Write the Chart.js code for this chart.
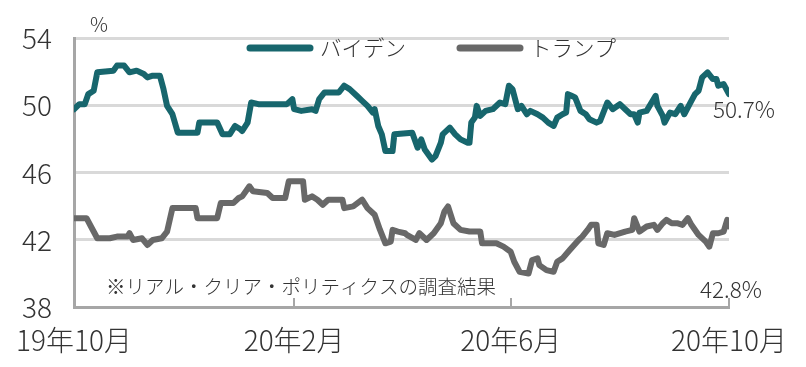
<!DOCTYPE html>
<html>
<head>
<meta charset="utf-8">
<script src="https://cdn.jsdelivr.net/npm/chart.js@4"></script>
<style>
  html, body { margin: 0; padding: 0; background: #fff; }
  #wrap { width: 806px; height: 367px; }
</style>
</head>
<body>
<div id="wrap"><canvas id="canvasSupport"></canvas></div>
<script>
// days counted from 2019-10-01
const tickDays = [0, 123, 244, 366]
const tickLabels = ['19年10月', '20年2月', '20年6月', '20年10月']
const yTicks = [38, 42, 46, 50, 54]

const bidenDays = [0, 3, 6, 8, 11, 13, 22, 24, 28, 31, 35, 39, 41, 44, 48, 50, 52, 55, 58, 69, 70, 80, 83, 87, 90, 93, 94, 97, 99, 103,
    119, 122, 123, 127, 133, 135, 137, 140, 148, 151, 154, 158, 161, 164, 167, 168, 170, 172, 174, 178, 179, 189, 192, 194, 196,
    200, 202, 205, 206, 210, 213, 216, 220, 221, 222, 224, 225, 227, 230, 234, 238, 241, 243, 245, 248, 250, 253, 255, 259, 262,
    265, 268, 270, 273, 275, 276, 278, 280, 283, 286, 288, 292, 294, 298, 301, 305, 308, 311, 313, 315, 316, 320, 325, 326, 329,
    330, 333, 336, 339, 341, 344, 347, 349, 351, 354, 357, 359, 360, 363, 366]
const bidenValues = [49.8, 50.1, 50.1, 50.7, 50.9, 52.0, 52.1, 52.4, 52.4, 52.0, 52.1, 51.9, 51.7, 51.8, 51.8, 51.0, 50.0, 49.5, 48.4, 48.4, 49.0, 49.0, 48.3, 48.3, 48.8, 48.6, 48.5, 49.0, 50.2, 50.1,
    50.1, 50.4, 49.8, 49.7, 49.8, 49.7, 50.4, 50.8, 50.8, 51.2, 51.0, 50.6, 50.3, 50.0, 49.6, 49.8, 48.8, 48.3, 47.3, 47.3, 48.3, 48.4, 47.5, 48.0, 47.4,
    46.8, 47.0, 47.8, 48.3, 48.7, 48.3, 48.0, 47.8, 47.8, 49.0, 49.3, 50.0, 49.4, 49.7, 49.8, 50.2, 50.1, 51.2, 51.0, 49.8, 50.0, 49.5, 49.7, 49.5, 49.3,
    49.0, 48.8, 49.3, 49.5, 49.6, 50.7, 50.6, 50.5, 49.7, 49.5, 49.2, 49.0, 49.1, 50.2, 49.8, 50.1, 49.8, 49.5, 49.5, 49.0, 49.6, 49.7, 50.6, 50.0, 49.4,
    49.0, 49.6, 49.5, 50.0, 49.5, 50.1, 50.7, 50.9, 51.7, 52.0, 51.6, 51.6, 51.2, 51.3, 50.7]

const trumpDays = [0, 7, 10, 13, 20, 24, 30, 31, 33, 38, 41, 44, 49, 52, 55, 68, 69, 80, 82, 89, 92, 94, 98, 100, 108, 111, 118, 120,
    128, 129, 133, 136, 139, 142, 150, 151, 156, 161, 164, 168, 171, 174, 177, 178, 181, 185, 186, 191, 193, 197, 201, 205, 207,
    209, 212, 216, 221, 227, 228, 236, 240, 244, 246, 249, 254, 256, 259, 260, 264, 268, 270, 273, 277, 282, 284, 287, 289, 292,
    293, 296, 298, 302, 308, 312, 313, 316, 320, 324, 326, 329, 331, 334, 337, 340, 343, 345, 349, 353, 355, 357, 360, 363, 365, 366]
const trumpValues = [43.3, 43.3, 42.7, 42.1, 42.1, 42.2, 42.2, 42.4, 42.0, 42.1, 41.7, 42.0, 42.1, 42.5, 43.9, 43.9, 43.3, 43.3, 44.2, 44.2, 44.5, 44.6, 45.2, 44.9, 44.8, 44.5, 44.5, 45.5,
    45.5, 44.4, 44.6, 44.4, 44.1, 44.4, 44.4, 43.9, 44.0, 44.4, 43.9, 43.5, 42.6, 41.8, 41.9, 42.6, 42.5, 42.4, 42.3, 42.0, 42.4, 42.0, 42.4, 43.0, 43.7,
    44.0, 43.0, 42.6, 42.5, 42.5, 41.8, 41.8, 41.6, 41.3, 40.7, 40.1, 40.0, 40.8, 40.9, 40.5, 40.2, 40.1, 40.7, 40.9, 41.4, 42.0, 42.2, 42.6, 42.9, 42.9,
    41.8, 41.7, 42.4, 42.3, 42.5, 42.6, 43.3, 42.5, 42.8, 42.9, 42.6, 43.0, 43.2, 43.0, 43.0, 42.9, 43.3, 42.9, 42.3, 41.9, 41.6, 42.4, 42.4, 42.5, 43.2, 42.8]

const BIDEN_COLOR = '#17666d'
const TRUMP_COLOR = '#686868'
const AXIS_COLOR = '#a6a6a6'
const TEXT_COLOR = '#333333'
const FONT = '"Noto Sans CJK JP", "Noto Sans", sans-serif'

function toPoints(days, values) {
    return days.map((d, i) => ({ x: d, y: values[i] }))
}

// legend, unit and notes drawn on top of the chart
const notesPlugin = {
    id: 'notes',
    afterDraw(chart) {
        const ctx = chart.ctx
        const area = chart.chartArea
        const xs = chart.scales.x
        const ys = chart.scales.y
        ctx.save()
        ctx.fillStyle = TEXT_COLOR
        ctx.textBaseline = 'middle'

        // legend
        ctx.font = '300 21.5px ' + FONT
        let lx = 250
        const ly = 48
        chart.data.datasets.forEach(ds => {
            ctx.strokeStyle = ds.borderColor
            ctx.lineWidth = 7
            ctx.lineCap = 'round'
            ctx.beginPath()
            ctx.moveTo(lx, ly)
            ctx.lineTo(lx + 60, ly)
            ctx.stroke()
            ctx.fillText(ds.label, lx + 70, ly)
            lx += 70 + ctx.measureText(ds.label).width + 54
        })

        // unit
        ctx.font = '300 20px ' + FONT
        ctx.fillText('%', area.left + 16, 24)

        // source note
        ctx.font = '300 19.5px ' + FONT
        ctx.fillText('※リアル・クリア・ポリティクスの調査結果', area.left + 32, 287)

        // last values
        ctx.font = '300 22.5px ' + FONT
        const lastB = bidenValues[bidenValues.length - 1]
        const lastT = trumpValues[trumpValues.length - 1]
        ctx.fillText(lastB.toFixed(1) + '%', xs.getPixelForValue(366) - 16, ys.getPixelForValue(lastB) + 15)
        ctx.fillText(lastT.toFixed(1) + '%', xs.getPixelForValue(366) - 29, area.bottom - 18)
        ctx.restore()
    }
}

const supportCtx = document.getElementById('canvasSupport').getContext('2d')

new Chart(supportCtx, {
    type: 'line',
    data: {
        datasets: [
            {
                label: 'バイデン',
                data: toPoints(bidenDays, bidenValues),
                borderColor: BIDEN_COLOR,
                backgroundColor: BIDEN_COLOR,
                borderWidth: 6,
                borderJoinStyle: 'round',
                borderCapStyle: 'round',
                pointRadius: 0,
                tension: 0
            },
            {
                label: 'トランプ',
                data: toPoints(trumpDays, trumpValues),
                borderColor: TRUMP_COLOR,
                backgroundColor: TRUMP_COLOR,
                borderWidth: 6,
                borderJoinStyle: 'round',
                borderCapStyle: 'round',
                pointRadius: 0,
                tension: 0
            }]
    },
    options: {
        responsive: true,
        maintainAspectRatio: false,
        animation: false,
        layout: {
            padding: { top: 31, right: 77, bottom: 0, left: 0 }
        },
        plugins: {
            legend: { display: false },
            tooltip: { enabled: false }
        },
        scales: {
            x: {
                type: 'linear',
                min: 0,
                max: 366,
                afterBuildTicks: s => { s.ticks = tickDays.map(v => ({ value: v })) },
                afterFit: s => {
                    s.height = 60
                    s.paddingLeft = 0
                    s.paddingRight = 0
                },
                grid: {
                    drawOnChartArea: false,
                    drawTicks: true,
                    tickLength: -9,
                    color: AXIS_COLOR,
                    lineWidth: 2
                },
                border: { color: AXIS_COLOR, width: 3 },
                ticks: {
                    padding: 26,
                    autoSkip: false,
                    maxRotation: 0,
                    color: TEXT_COLOR,
                    font: { family: FONT, size: 28, weight: 300 },
                    callback: v => tickLabels[tickDays.indexOf(v)]
                }
            },
            y: {
                min: 38,
                max: 54,
                afterBuildTicks: s => { s.ticks = yTicks.map(v => ({ value: v })) },
                afterFit: s => { s.width = 74 },
                grid: {
                    drawTicks: false,
                    color: '#d9d9d9',
                    lineWidth: 3
                },
                border: { color: AXIS_COLOR, width: 3 },
                ticks: {
                    padding: 22,
                    color: TEXT_COLOR,
                    font: { family: FONT, size: 28, weight: 300 }
                }
            }
        }
    },
    plugins: [notesPlugin]
})
</script>
</body>
</html>
